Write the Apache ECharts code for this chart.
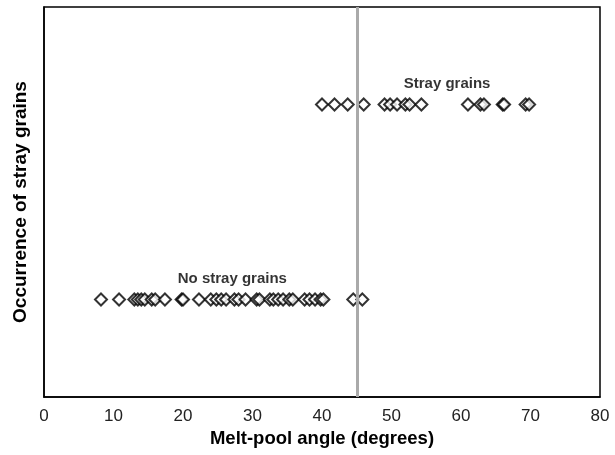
<!DOCTYPE html>
<html>
<head>
<meta charset="utf-8">
<script src="https://cdn.jsdelivr.net/npm/echarts@6/dist/echarts.min.js"></script>
<style>
  html, body { margin: 0; padding: 0; background: #fff; }
  #chart { width: 615px; height: 455px; }
</style>
</head>
<body>
<div id="chart"></div>
<script>
const xTicks = [0, 10, 20, 30, 40, 50, 60, 70, 80]
const strayAngles = [40.0, 41.8, 43.7, 46.0, 49.0, 49.8, 50.8, 52.0, 52.6, 54.3, 61.0, 62.8, 63.3, 66.0, 66.2, 69.3, 69.8]
const noStrayAngles = [8.2, 10.8, 13.0, 13.5, 14.0, 14.5, 15.5, 16.0, 17.4, 19.8, 20.0, 22.3, 24.0, 24.8, 25.5, 26.2, 27.4,
  28.0, 29.0, 30.6, 31.0, 32.5, 33.0, 33.7, 34.4, 35.3, 35.8, 37.5, 38.2, 39.0, 39.8, 40.2, 44.5, 45.8]
const strayLevel = 3
const noStrayLevel = 1
const thresholdAngle = 45
const groupLabels = [
  { name: 'Stray grains', x: 58, y: 3.21 },
  { name: 'No stray grains', x: 27.1, y: 1.21 }
]

const chart = echarts.init(document.getElementById('chart'))

const pointStyle = {
  type: 'scatter',
  symbol: 'diamond',
  symbolSize: [12, 12],
  itemStyle: {
    color: '#fff',
    borderColor: '#000',
    borderWidth: 2
  },
  silent: true
}

chart.setOption({
  animation: false,
  grid: {
    left: 44,
    right: 15,
    top: 7,
    bottom: 58,
    show: true,
    borderColor: '#000',
    borderWidth: 1.5
  },
  xAxis: {
    type: 'value',
    min: 0,
    max: 80,
    interval: 10,
    name: 'Melt-pool angle (degrees)',
    nameLocation: 'middle',
    nameGap: 31,
    nameTextStyle: {
      fontFamily: 'Liberation Sans',
      fontWeight: 'bold',
      fontSize: 18.5,
      color: '#000'
    },
    axisLine: { show: true, lineStyle: { color: '#000', width: 1.5 } },
    axisTick: { show: false },
    splitLine: { show: false },
    axisLabel: {
      margin: 11,
      fontFamily: 'Liberation Sans',
      fontSize: 17,
      color: '#222',
      formatter: v => (xTicks.includes(v) ? String(v) : '')
    }
  },
  yAxis: {
    type: 'value',
    min: 0,
    max: 4,
    name: 'Occurrence of stray grains',
    nameLocation: 'middle',
    nameGap: 14,
    nameTextStyle: {
      fontFamily: 'Liberation Sans',
      fontWeight: 'bold',
      fontSize: 19,
      color: '#000'
    },
    axisLine: { show: true, lineStyle: { color: '#000', width: 1.5 } },
    axisTick: { show: false },
    axisLabel: { show: false },
    splitLine: { show: false }
  },
  series: [
    {
      type: 'line',
      data: [],
      markLine: {
        silent: true,
        symbol: 'none',
        label: { show: false },
        lineStyle: { color: '#aaa', width: 3, type: 'solid' },
        data: [{ xAxis: thresholdAngle }]
      }
    },
    {
      ...pointStyle,
      name: 'No stray grains',
      data: noStrayAngles.map(a => [a, noStrayLevel])
    },
    {
      ...pointStyle,
      name: 'Stray grains',
      data: strayAngles.map(a => [a, strayLevel])
    },
    {
      type: 'scatter',
      symbolSize: 0,
      silent: true,
      data: groupLabels.map(g => ({ name: g.name, value: [g.x, g.y] })),
      label: {
        show: true,
        position: 'inside',
        formatter: p => p.name,
        fontFamily: 'Liberation Sans',
        fontWeight: 'bold',
        fontSize: 15,
        color: '#000',
        textBorderWidth: 0
      }
    }
  ]
})
</script>
</body>
</html>
